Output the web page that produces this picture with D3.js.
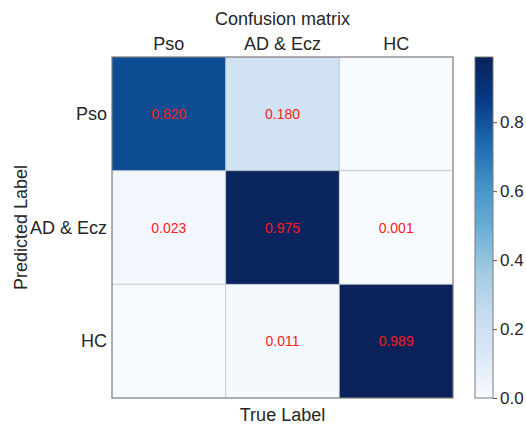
<!DOCTYPE html>
<html>
<head>
<meta charset="utf-8">
<script src="https://cdn.jsdelivr.net/npm/d3@7"></script>
<style>
  html, body { margin: 0; padding: 0; background: #fff; }
  svg { display: block; font-family: "Liberation Sans", Arial, Helvetica, sans-serif; }
</style>
</head>
<body>
<svg id="chart" width="526" height="427"></svg>
<script>
// Class names along both axes
const categories = ["Pso", "AD & Ecz", "HC"];
// Rows = predicted label, columns = true label
const matrixValues = [
  [0.820, 0.180, 0.000],
  [0.023, 0.975, 0.001],
  [0.000, 0.011, 0.989]
];
const colorbarTicks = [0.0, 0.2, 0.4, 0.6, 0.8];

const svg = d3.select("#chart");
const plotLeft = 112, plotTop = 57, plotSize = 341;
const textColor = "#262626";

// Blues-style ramp, piecewise linear through its stops (deeper navy at the top end)
const blueStops = ["#f7fbff", "#dae8f6", "#c6dbef", "#9ecae1", "#6baed6",
                   "#4292c6", "#1c68ae", "#063b84", "#0a2259"];
const blues = d3.piecewise(d3.interpolateRgb, blueStops);
const vmax = d3.max(matrixValues.flat());
const color = d3.scaleSequential(blues).domain([0, vmax]);

const x = d3.scaleBand().domain(categories).range([plotLeft, plotLeft + plotSize]);
const y = d3.scaleBand().domain(categories).range([plotTop, plotTop + plotSize]);

const cells = [];
matrixValues.forEach((row, i) => row.forEach((v, j) => {
  cells.push({ pred: categories[i], truth: categories[j], v });
}));

// Heatmap cells
svg.append("g").selectAll("rect").data(cells).join("rect")
  .attr("x", d => x(d.truth))
  .attr("y", d => y(d.pred))
  .attr("width", x.bandwidth())
  .attr("height", y.bandwidth())
  .attr("fill", d => color(d.v));

// Faint grid lines on cell boundaries
const grid = svg.append("g").attr("stroke", "#b4bcc6").attr("stroke-width", 0.8);
categories.slice(1).forEach(c => {
  grid.append("line").attr("x1", x(c)).attr("x2", x(c)).attr("y1", plotTop).attr("y2", plotTop + plotSize);
  grid.append("line").attr("y1", y(c)).attr("y2", y(c)).attr("x1", plotLeft).attr("x2", plotLeft + plotSize);
});

// Value annotations (zero cells left blank)
svg.append("g").selectAll("text").data(cells.filter(d => d.v > 0)).join("text")
  .attr("x", d => x(d.truth) + x.bandwidth() / 2)
  .attr("y", d => y(d.pred) + y.bandwidth() / 2)
  .attr("text-anchor", "middle")
  .attr("dominant-baseline", "central")
  .attr("font-size", 14)
  .attr("fill", "#ff1a1a")
  .text(d => d.v.toFixed(3));

// Frame
svg.append("rect")
  .attr("x", plotLeft).attr("y", plotTop).attr("width", plotSize).attr("height", plotSize)
  .attr("fill", "none").attr("stroke", "#7a7a7a").attr("stroke-width", 1.2);

// Column labels on top
svg.append("g").selectAll("text").data(categories).join("text")
  .attr("x", d => x(d) + x.bandwidth() / 2)
  .attr("y", 50)
  .attr("text-anchor", "middle")
  .attr("font-size", 18)
  .attr("fill", textColor)
  .text(d => d);

// Row labels on the left
svg.append("g").selectAll("text").data(categories).join("text")
  .attr("x", 107)
  .attr("y", d => y(d) + y.bandwidth() / 2)
  .attr("text-anchor", "end")
  .attr("dominant-baseline", "central")
  .attr("font-size", 18)
  .attr("fill", textColor)
  .text(d => d);

// Titles
svg.append("text")
  .attr("x", plotLeft + plotSize / 2).attr("y", 25)
  .attr("text-anchor", "middle").attr("font-size", 18).attr("fill", textColor)
  .text("Confusion matrix");

svg.append("text")
  .attr("x", plotLeft + plotSize / 2).attr("y", 421)
  .attr("text-anchor", "middle").attr("font-size", 18).attr("fill", textColor)
  .text("True Label");

svg.append("text")
  .attr("transform", `translate(27,${plotTop + plotSize / 2}) rotate(-90)`)
  .attr("text-anchor", "middle").attr("font-size", 18).attr("fill", textColor)
  .text("Predicted Label");

// Colorbar
const cbX = 475, cbW = 18;
const cbScale = d3.scaleLinear().domain([0, vmax]).range([plotTop + plotSize, plotTop]);
const grad = svg.append("defs").append("linearGradient")
  .attr("id", "cbGrad").attr("x1", 0).attr("y1", 1).attr("x2", 0).attr("y2", 0);
d3.range(0, 1.0001, 0.025).forEach(t => {
  grad.append("stop").attr("offset", t).attr("stop-color", color(t * vmax));
});
svg.append("rect")
  .attr("x", cbX).attr("y", plotTop).attr("width", cbW).attr("height", plotSize)
  .attr("fill", "url(#cbGrad)")
  .attr("stroke", "#7a7a7a").attr("stroke-width", 1);

const cbAxis = svg.append("g")
  .attr("transform", `translate(${cbX + cbW},0)`)
  .call(d3.axisRight(cbScale).tickValues(colorbarTicks).tickFormat(d3.format(".1f")).tickSize(4).tickPadding(3));
cbAxis.select(".domain").remove();
cbAxis.selectAll(".tick line").attr("stroke", "#555");
cbAxis.selectAll(".tick text")
  .attr("font-size", 17)
  .attr("font-family", "Liberation Sans, Arial, sans-serif")
  .attr("fill", textColor);
</script>
</body>
</html>
